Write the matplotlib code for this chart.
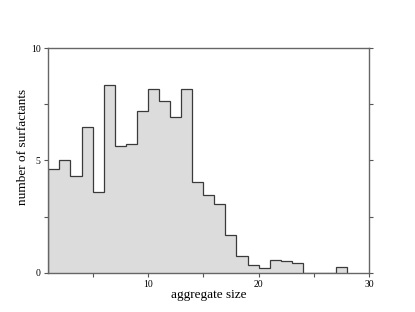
import numpy as np
import matplotlib
matplotlib.use("Agg")
import matplotlib.pyplot as plt
from matplotlib.ticker import MultipleLocator

# histogram of aggregate sizes, one bin per unit from 1 to 28
bin_edges = np.arange(1, 29)
counts = [4.64, 5.02, 4.31, 6.49, 3.58, 8.36, 5.63, 5.75, 7.22, 8.17,
          7.65, 6.92, 8.17, 4.03, 3.48, 3.05, 1.69, 0.74, 0.36, 0.22,
          0.57, 0.54, 0.42, 0.0, 0.0, 0.0, 0.24]

x_ticks = [10, 20, 30]
y_ticks = [0, 5, 10]

plt.rcParams["font.family"] = ["Liberation Serif", "DejaVu Serif"]

fig = plt.figure(figsize=(4.15, 3.12), dpi=100)
ax = fig.add_axes([0.1164, 0.126, 0.7735, 0.7192])

ax.stairs(counts, bin_edges, fill=True, color="#dcdcdc", linewidth=0)
ax.stairs(counts, bin_edges, fill=False, color="#3a3a3a", linewidth=0.9)

ax.set_xlim(1, 30)
ax.set_ylim(0, 10)
ax.set_xticks(x_ticks)
ax.set_yticks(y_ticks)
ax.xaxis.set_minor_locator(MultipleLocator(5))
ax.yaxis.set_minor_locator(MultipleLocator(2.5))

for side in ["left", "right", "top", "bottom"]:
    ax.spines[side].set_color("#666666")
    ax.spines[side].set_linewidth(1.0)

ax.tick_params(which="both", direction="out", length=3, width=0.8,
               color="#555555", labelsize=7, pad=2.5,
               left=True, right=True, top=False, bottom=True,
               labelright=False)

ax.set_xlabel("aggregate size", fontsize=9.5, labelpad=0)
ax.set_ylabel("number of surfactants", fontsize=9.5)
ax.yaxis.set_label_coords(-0.06, 0.56)

fig.savefig("out.png", dpi=100)
